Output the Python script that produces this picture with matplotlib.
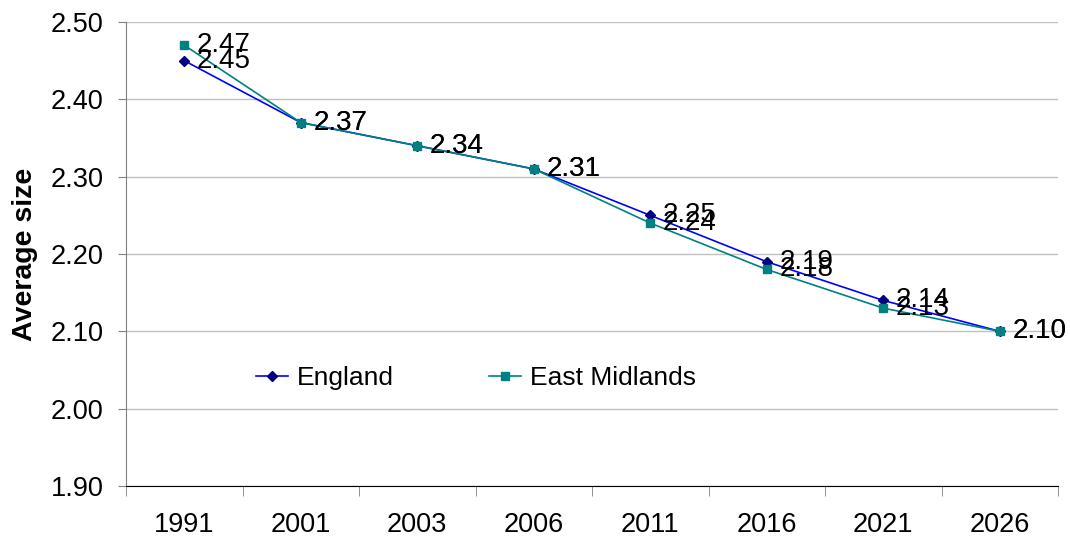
import matplotlib
matplotlib.use("Agg")
import matplotlib.pyplot as plt

plt.rcParams['font.family'] = ['Liberation Sans', 'DejaVu Sans']

years = ["1991", "2001", "2003", "2006", "2011", "2016", "2021", "2026"]
england = [2.45, 2.37, 2.34, 2.31, 2.25, 2.19, 2.14, 2.10]
east_midlands = [2.47, 2.37, 2.34, 2.31, 2.24, 2.18, 2.13, 2.10]
yticks = [1.90, 2.00, 2.10, 2.20, 2.30, 2.40, 2.50]

fig = plt.figure(figsize=(10.7, 5.42), dpi=100)
ax = fig.add_axes([126/1070, 1-486/542, (1058-126)/1070, (486-22)/542])

x = list(range(len(years)))
ax.plot(x, england, color='#0000FF', lw=1.2, marker='D', ms=5,
        mfc='#000080', mec='#000080', label='England', zorder=3)
ax.plot(x, east_midlands, color='#008080', lw=1.2, marker='s', ms=5.5,
        mfc='#008080', mec='#008080', label='East Midlands', zorder=3)

for xi, v in zip(x, england):
    ax.annotate(f"{v:.2f}", (xi, v), xytext=(9, 0), textcoords='offset points',
                ha='left', va='center', fontsize=20, color='black', zorder=4)
for xi, v in zip(x, east_midlands):
    ax.annotate(f"{v:.2f}", (xi, v), xytext=(9, 0), textcoords='offset points',
                ha='left', va='center', fontsize=20, color='black', zorder=4)

ax.set_xlim(-0.5, len(years) - 0.5)
ax.set_ylim(1.90, 2.50)
ax.set_yticks(yticks)
ax.set_yticklabels([f"{t:.2f}" for t in yticks], fontsize=19.5)
ax.set_xticks(x)
ax.set_xticklabels(years, fontsize=19.5)
ax.set_xticks([i - 0.5 for i in range(len(years) + 1)], minor=True)
ax.tick_params(axis='x', which='major', length=0, pad=19)
ax.tick_params(axis='x', which='minor', length=7, color='#808080', direction='out')
ax.tick_params(axis='y', length=6, color='#808080', direction='out', pad=10)

ax.yaxis.grid(True, color='#C0C0C0', lw=1)
ax.set_axisbelow(True)
for s in ['top', 'right']:
    ax.spines[s].set_visible(False)
ax.spines['left'].set_color('#808080')
ax.spines['bottom'].set_color('black')

ax.set_ylabel('Average size', fontsize=20.5, fontweight='bold', labelpad=9)

ax.legend(loc='center left', bbox_to_anchor=(0.114, 0.232), ncol=2, frameon=False,
          fontsize=19, columnspacing=3.6, handlelength=1.2, handletextpad=0.35)

fig.savefig('out.png', dpi=100)
